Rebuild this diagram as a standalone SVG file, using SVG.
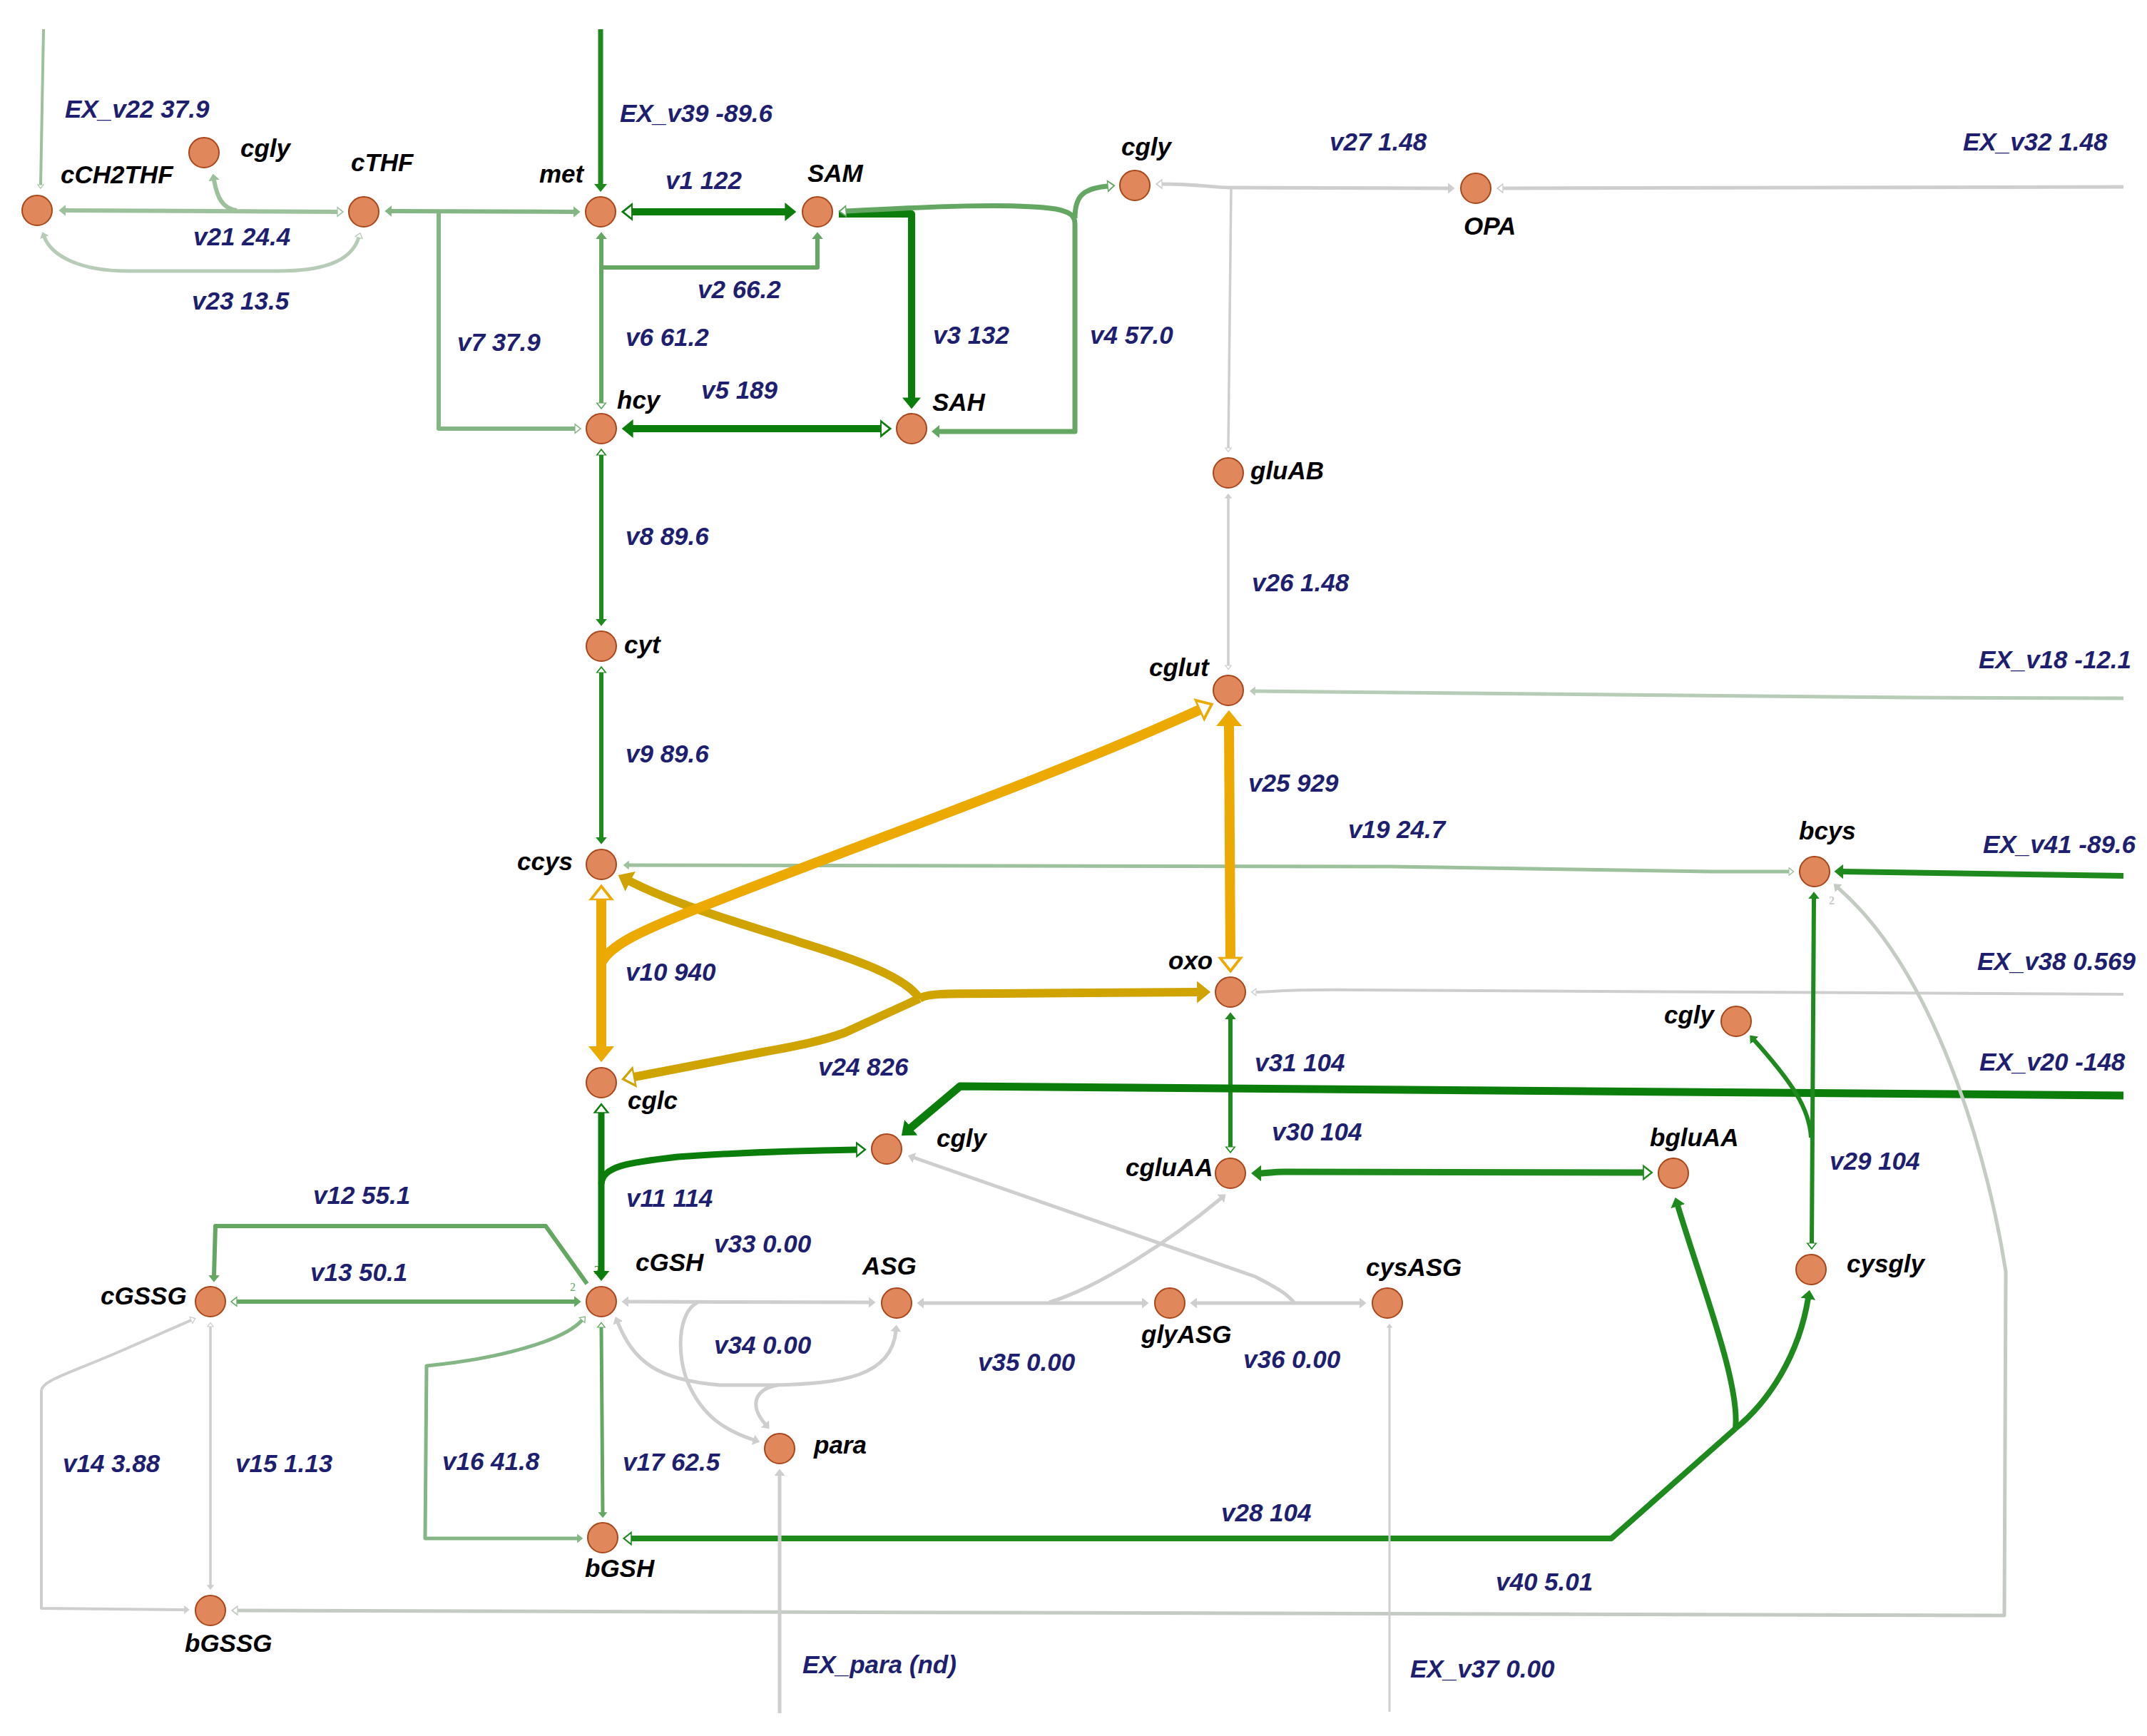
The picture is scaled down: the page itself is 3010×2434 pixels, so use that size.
<svg xmlns="http://www.w3.org/2000/svg" width="3010" height="2434" viewBox="0 0 3010 2434">
<style>
  .node circle{fill:#E0875C;stroke:#A8461A;stroke-width:2}
  .node text{font-family:"Liberation Sans",Arial,sans-serif;font-weight:bold;font-style:italic;font-size:35px;fill:#000}
  .lbl{font-family:"Liberation Sans",Arial,sans-serif;font-weight:bold;font-style:italic;font-size:35px;fill:#1F1F70}
  .stoich{font-family:"Liberation Serif",serif;font-size:16px}
  #connectors path{fill:none;stroke-linejoin:round}
  .c1{stroke:#0A7D0A}.c2{stroke:#1E8A1E}.c3{stroke:#63A763}.c4{stroke:#84B584}.c5{stroke:#9CC19C}
  .c6{stroke:#B7CCB7}.c7{stroke:#CECECE}.c8{stroke:#C3CBC3}.c9{stroke:#ECAA00}.c10{stroke:#CFA300}
</style>
<defs>
  <!-- filled heads (f) and open heads (h), one pair per line colour -->
  <marker id="f1" viewBox="0 0 10 10" refX="1" refY="5" markerWidth="1.6" markerHeight="2.6" orient="auto-start-reverse" preserveAspectRatio="none"><path d="M0,0L10,5L0,10z" fill="#0A7D0A"/></marker>
  <marker id="h1" viewBox="0 0 10 10" refX="1" refY="5" markerWidth="1.6" markerHeight="2.6" orient="auto-start-reverse" preserveAspectRatio="none" overflow="visible"><path d="M1,1L9.2,5L1,9z" fill="#fff" stroke="#0A7D0A" stroke-width="1.2"/></marker>
  <marker id="f2" viewBox="0 0 10 10" refX="1" refY="5" markerWidth="1.6" markerHeight="2.6" orient="auto-start-reverse" preserveAspectRatio="none"><path d="M0,0L10,5L0,10z" fill="#1E8A1E"/></marker>
  <marker id="h2" viewBox="0 0 10 10" refX="1" refY="5" markerWidth="1.6" markerHeight="2.6" orient="auto-start-reverse" preserveAspectRatio="none" overflow="visible"><path d="M1,1L9.2,5L1,9z" fill="#fff" stroke="#1E8A1E" stroke-width="1.2"/></marker>
  <marker id="f3" viewBox="0 0 10 10" refX="1" refY="5" markerWidth="1.6" markerHeight="2.6" orient="auto-start-reverse" preserveAspectRatio="none"><path d="M0,0L10,5L0,10z" fill="#63A763"/></marker>
  <marker id="h3" viewBox="0 0 10 10" refX="1" refY="5" markerWidth="1.6" markerHeight="2.6" orient="auto-start-reverse" preserveAspectRatio="none" overflow="visible"><path d="M1,1L9.2,5L1,9z" fill="#fff" stroke="#63A763" stroke-width="1.2"/></marker>
  <marker id="f4" viewBox="0 0 10 10" refX="1" refY="5" markerWidth="1.6" markerHeight="2.6" orient="auto-start-reverse" preserveAspectRatio="none"><path d="M0,0L10,5L0,10z" fill="#84B584"/></marker>
  <marker id="h4" viewBox="0 0 10 10" refX="1" refY="5" markerWidth="1.6" markerHeight="2.6" orient="auto-start-reverse" preserveAspectRatio="none" overflow="visible"><path d="M1,1L9.2,5L1,9z" fill="#fff" stroke="#84B584" stroke-width="1.2"/></marker>
  <marker id="f5" viewBox="0 0 10 10" refX="1" refY="5" markerWidth="1.6" markerHeight="2.6" orient="auto-start-reverse" preserveAspectRatio="none"><path d="M0,0L10,5L0,10z" fill="#9CC19C"/></marker>
  <marker id="h5" viewBox="0 0 10 10" refX="1" refY="5" markerWidth="1.6" markerHeight="2.6" orient="auto-start-reverse" preserveAspectRatio="none" overflow="visible"><path d="M1,1L9.2,5L1,9z" fill="#fff" stroke="#9CC19C" stroke-width="1.2"/></marker>
  <marker id="f6" viewBox="0 0 10 10" refX="1" refY="5" markerWidth="1.6" markerHeight="2.6" orient="auto-start-reverse" preserveAspectRatio="none"><path d="M0,0L10,5L0,10z" fill="#B7CCB7"/></marker>
  <marker id="h6" viewBox="0 0 10 10" refX="1" refY="5" markerWidth="1.6" markerHeight="2.6" orient="auto-start-reverse" preserveAspectRatio="none" overflow="visible"><path d="M1,1L9.2,5L1,9z" fill="#fff" stroke="#B7CCB7" stroke-width="1.2"/></marker>
  <marker id="f7" viewBox="0 0 10 10" refX="1" refY="5" markerWidth="1.9" markerHeight="3" orient="auto-start-reverse" preserveAspectRatio="none"><path d="M0,0L10,5L0,10z" fill="#CECECE"/></marker>
  <marker id="h7" viewBox="0 0 10 10" refX="1" refY="5" markerWidth="1.9" markerHeight="3" orient="auto-start-reverse" preserveAspectRatio="none" overflow="visible"><path d="M1,1L9.2,5L1,9z" fill="#fff" stroke="#CECECE" stroke-width="1.3"/></marker>
  <marker id="f8" viewBox="0 0 10 10" refX="1" refY="5" markerWidth="1.9" markerHeight="3" orient="auto-start-reverse" preserveAspectRatio="none"><path d="M0,0L10,5L0,10z" fill="#C3CBC3"/></marker>
  <marker id="h8" viewBox="0 0 10 10" refX="1" refY="5" markerWidth="1.9" markerHeight="3" orient="auto-start-reverse" preserveAspectRatio="none" overflow="visible"><path d="M1,1L9.2,5L1,9z" fill="#fff" stroke="#C3CBC3" stroke-width="1.3"/></marker>
  <marker id="f9" viewBox="0 0 10 10" refX="1" refY="5" markerWidth="1.6" markerHeight="2.6" orient="auto-start-reverse" preserveAspectRatio="none"><path d="M0,0L10,5L0,10z" fill="#ECAA00"/></marker>
  <marker id="h9" viewBox="0 0 10 10" refX="1" refY="5" markerWidth="1.6" markerHeight="2.6" orient="auto-start-reverse" preserveAspectRatio="none" overflow="visible"><path d="M1,1L9.2,5L1,9z" fill="#fff" stroke="#ECAA00" stroke-width="1.2"/></marker>
  <marker id="f10" viewBox="0 0 10 10" refX="1" refY="5" markerWidth="1.6" markerHeight="2.6" orient="auto-start-reverse" preserveAspectRatio="none"><path d="M0,0L10,5L0,10z" fill="#CFA300"/></marker>
  <marker id="h10" viewBox="0 0 10 10" refX="1" refY="5" markerWidth="1.6" markerHeight="2.6" orient="auto-start-reverse" preserveAspectRatio="none" overflow="visible"><path d="M1,1L9.2,5L1,9z" fill="#fff" stroke="#CFA300" stroke-width="1.2"/></marker>
</defs>
<rect width="3010" height="2434" fill="#fff"/>

<g id="connectors">
  <g id="r-EX_v22"><path class="c5" stroke-width="4" d="M61,41 L57,259" marker-end="url(#h5)"/></g>
  <g id="r-v21">
    <path class="c5" stroke-width="6" d="M473,297 L91,295" marker-start="url(#h5)" marker-end="url(#f5)"/>
    <path class="c5" stroke-width="6" d="M332,295 C312,293 304,276 300,252" marker-end="url(#f5)"/>
  </g>
  <g id="r-v23"><path class="c6" stroke-width="5" d="M503,333 C492,368 450,380 389,380 L180,380 C110,380 72,358 62,332" marker-start="url(#h6)" marker-end="url(#f6)"/></g>
  <g id="r-v7">
    <path class="c4" stroke-width="6" d="M548,296 L805,297" marker-start="url(#f4)" marker-end="url(#f4)"/>
    <path class="c4" stroke-width="6" d="M615,296 L615,601 L806,601" marker-end="url(#h4)"/>
  </g>
  <g id="r-EX_v39"><path class="c2" stroke-width="7" d="M842,41 L842,259" marker-end="url(#f2)"/></g>
  <g id="r-v1"><path class="c1" stroke-width="10" d="M886,297 L1102,297" marker-start="url(#h1)" marker-end="url(#f1)"/></g>
  <g id="r-v6"><path class="c3" stroke-width="6" d="M843,565 L843,334" marker-start="url(#h3)" marker-end="url(#f3)"/></g>
  <g id="r-v2"><path class="c3" stroke-width="6" d="M843,375 L1146,375 L1146,334" marker-end="url(#f3)"/></g>
  <g id="r-v3"><path class="c1" stroke-width="10" d="M1176,300 L1278,300 L1278,559" marker-end="url(#f1)"/></g>
  <g id="r-v4">
    <path class="c3" stroke-width="7" d="M1186,296 C1300,290 1420,284 1480,293 C1500,297 1507,302 1507,314 L1507,605 L1316,605" marker-start="url(#h3)" marker-end="url(#f3)"/>
    <path class="c3" stroke-width="7" d="M1507,306 C1507,276 1517,264 1553,261" marker-end="url(#h3)"/>
  </g>
  <g id="r-v5"><path class="c1" stroke-width="10" d="M1235,601 L886,601" marker-start="url(#h1)" marker-end="url(#f1)"/></g>
  <g id="r-v8"><path class="c2" stroke-width="6" d="M843,638 L843,869" marker-start="url(#h2)" marker-end="url(#f2)"/></g>
  <g id="r-v9"><path class="c2" stroke-width="6" d="M843,943 L843,1175" marker-start="url(#h2)" marker-end="url(#f2)"/></g>
  <g id="r-v27">
    <path class="c7" stroke-width="5" d="M1629,258 C1680,258 1700,263 1726,263 L2031,264" marker-start="url(#h7)" marker-end="url(#f7)"/>
    <path class="c7" stroke-width="3.5" d="M1726,263 L1722,628" marker-end="url(#h7)"/>
  </g>
  <g id="r-EX_v32"><path class="c7" stroke-width="5" d="M2977,262 L2107,264" marker-end="url(#h7)"/></g>
  <g id="r-v26"><path class="c7" stroke-width="3.5" d="M1722,933 L1722,698" marker-start="url(#h7)" marker-end="url(#f7)"/></g>
  <g id="r-EX_v18"><path class="c6" stroke-width="5" d="M2977,979 L2680,978 L1759,969" marker-end="url(#f6)"/></g>
  <g id="r-v19"><path class="c5" stroke-width="5" d="M2508,1222 L2400,1222 L1950,1215 L881,1213" marker-start="url(#h5)" marker-end="url(#f5)"/></g>
  <g id="r-EX_v41"><path class="c2" stroke-width="8" d="M2977,1228 L2583,1222" marker-end="url(#f2)"/></g>
  <g id="r-EX_v38"><path class="c7" stroke-width="4" d="M2977,1394 L1900,1388 C1800,1387 1780,1391 1761,1391" marker-end="url(#h7)"/></g>
  <g id="r-v24">
    <path class="c10" stroke-width="12" d="M1289,1400 C1270,1370 1200,1345 1121,1321 C1050,1298 950,1270 882,1235" marker-end="url(#f10)"/>
    <path class="c10" stroke-width="12" d="M1289,1400 C1300,1393 1320,1393 1400,1393 L1680,1391" marker-end="url(#f10)"/>
    <path class="c10" stroke-width="12" d="M1289,1400 L1184,1448 C1150,1460 1120,1466 1070,1475 L889,1510" marker-end="url(#h10)"/>
  </g>
  <g id="r-v10">
    <path class="c9" stroke-width="14" d="M843,1261 L843,1469" marker-start="url(#h9)" marker-end="url(#f9)"/>
    <path class="c9" stroke-width="14" d="M843,1350 C855,1325 900,1305 967,1278 C1200,1185 1450,1100 1682,995" marker-end="url(#h9)"/>
  </g>
  <g id="r-v25"><path class="c9" stroke-width="14" d="M1725,1343 L1723,1016" marker-start="url(#h9)" marker-end="url(#f9)"/></g>
  <g id="r-v31"><path class="c2" stroke-width="6" d="M1725,1608 L1725,1428" marker-start="url(#h2)" marker-end="url(#f2)"/></g>
  <g id="r-EX_v20"><path class="c1" stroke-width="11" d="M2977,1536 L1346,1523 L1276,1582" marker-end="url(#f1)"/></g>
  <g id="r-v29">
    <path class="c2" stroke-width="6" d="M2540,1743 L2543,1259" marker-start="url(#h2)" marker-end="url(#f2)"/>
    <path class="c2" stroke-width="6" d="M2539,1595 C2537,1555 2513,1518 2459,1458" marker-end="url(#f2)"/>
  </g>
  <g id="r-v30"><path class="c2" stroke-width="9" d="M2304,1644 L1800,1643 C1785,1643 1775,1645 1767,1645" marker-start="url(#h2)" marker-end="url(#f2)"/></g>
  <g id="r-v28">
    <path class="c2" stroke-width="8" d="M885,2157 L2259,2157 L2433,2003" marker-start="url(#h2)"/>
    <path class="c2" stroke-width="8" d="M2433,2003 C2440,1940 2385,1800 2352,1690" marker-end="url(#f2)"/>
    <path class="c2" stroke-width="8" d="M2433,2003 C2480,1965 2522,1900 2535,1820" marker-end="url(#f2)"/>
  </g>
  <g id="r-v11">
    <path class="c1" stroke-width="9" d="M843,1560 L843,1783" marker-start="url(#h1)" marker-end="url(#f1)"/>
    <path class="c1" stroke-width="9" d="M843,1660 C845,1635 880,1630 950,1622 C1050,1615 1130,1613 1201,1612" marker-end="url(#h1)"/>
  </g>
  <g id="r-v12"><path class="c3" stroke-width="6" d="M823,1800 L765,1719 L302,1719 L300,1789" marker-end="url(#f3)"/></g>
  <g id="r-v13"><path class="c3" stroke-width="6" d="M332,1825 L806,1825" marker-start="url(#h3)" marker-end="url(#f3)"/></g>
  <g id="r-v16"><path class="c4" stroke-width="5" d="M816,1851 C790,1880 700,1905 598,1915 L596,2157 L810,2157" marker-start="url(#h4)" marker-end="url(#f4)"/></g>
  <g id="r-v17"><path class="c3" stroke-width="5" d="M843,1861 L845,2121" marker-start="url(#h3)" marker-end="url(#f3)"/></g>
  <g id="r-v14"><path class="c7" stroke-width="4" d="M268,1851 L179,1890 C100,1925 58,1935 58,1950 L58,2255 L259,2257" marker-start="url(#h7)" marker-end="url(#f7)"/></g>
  <g id="r-v15"><path class="c7" stroke-width="3.5" d="M295,1860 L295,2223" marker-start="url(#h7)" marker-end="url(#f7)"/></g>
  <g id="r-v40"><path class="c8" stroke-width="5" d="M333,2258 L2810,2265 L2812,1783 C2790,1640 2720,1370 2577,1245" marker-start="url(#h8)" marker-end="url(#f8)"/></g>
  <g id="r-v33">
    <path class="c7" stroke-width="5" d="M880,1825 L1219,1826" marker-start="url(#f7)" marker-end="url(#f7)"/>
    <path class="c7" stroke-width="5" d="M978,1826 C950,1840 948,1900 965,1940 C985,1985 1015,2005 1057,2019" marker-end="url(#f7)"/>
  </g>
  <g id="r-v34">
    <path class="c7" stroke-width="5" d="M866,1854 C888,1908 920,1935 1010,1942 L1085,1942 C1180,1940 1250,1930 1256,1866" marker-start="url(#f7)" marker-end="url(#f7)"/>
    <path class="c7" stroke-width="5" d="M1090,1942 C1058,1948 1050,1970 1073,1997" marker-end="url(#f7)"/>
  </g>
  <g id="r-v35">
    <path class="c7" stroke-width="5" d="M1294,1827 L1602,1827" marker-start="url(#f7)" marker-end="url(#f7)"/>
    <path class="c7" stroke-width="5" d="M1471,1826 C1540,1805 1640,1740 1712,1680" marker-end="url(#f7)"/>
  </g>
  <g id="r-v36">
    <path class="c7" stroke-width="5" d="M1907,1827 L1677,1827" marker-start="url(#f7)" marker-end="url(#f7)"/>
    <path class="c7" stroke-width="5" d="M1815,1827 C1805,1815 1795,1808 1760,1790 L1281,1623" marker-end="url(#f7)"/>
  </g>
  <g id="r-EX_v37"><path class="c7" stroke-width="3" d="M1948,2400 L1948,1861" marker-end="url(#f7)"/></g>
  <g id="r-EX_para"><path class="c7" stroke-width="5" d="M1093,2402 L1093,2068" marker-end="url(#f7)"/></g>

  <!-- stoichiometry marks -->
  <text class="stoich" x="799" y="1810" fill="#63A763">2</text>
  <text class="stoich" x="833" y="1786" fill="#0A7D0A">2</text>
  <text class="stoich" x="2564" y="1268" fill="#C8C8C8" font-family="Liberation Sans, sans-serif" font-weight="bold" font-size="15">2</text>
</g>

<g id="flux-labels" class="lbl">
  <text x="91" y="165">EX_v22 37.9</text>
  <text x="271" y="344">v21 24.4</text>
  <text x="269" y="434">v23 13.5</text>
  <text x="869" y="171">EX_v39 -89.6</text>
  <text x="933" y="265">v1 122</text>
  <text x="978" y="418">v2 66.2</text>
  <text x="641" y="492">v7 37.9</text>
  <text x="877" y="485">v6 61.2</text>
  <text x="1308" y="482">v3 132</text>
  <text x="1528" y="482">v4 57.0</text>
  <text x="983" y="559">v5 189</text>
  <text x="1864" y="211">v27 1.48</text>
  <text x="2752" y="211">EX_v32 1.48</text>
  <text x="1755" y="829">v26 1.48</text>
  <text x="877" y="764">v8 89.6</text>
  <text x="877" y="1069">v9 89.6</text>
  <text x="877" y="1375">v10 940</text>
  <text x="1147" y="1508">v24 826</text>
  <text x="1750" y="1110">v25 929</text>
  <text x="2774" y="937">EX_v18 -12.1</text>
  <text x="1890" y="1175">v19 24.7</text>
  <text x="2780" y="1196">EX_v41 -89.6</text>
  <text x="2772" y="1360">EX_v38 0.569</text>
  <text x="1759" y="1502">v31 104</text>
  <text x="2775" y="1501">EX_v20 -148</text>
  <text x="1783" y="1599">v30 104</text>
  <text x="2565" y="1640">v29 104</text>
  <text x="439" y="1688">v12 55.1</text>
  <text x="878" y="1692">v11 114</text>
  <text x="1001" y="1756">v33 0.00</text>
  <text x="435" y="1796">v13 50.1</text>
  <text x="1001" y="1898">v34 0.00</text>
  <text x="1371" y="1922">v35 0.00</text>
  <text x="1743" y="1918">v36 0.00</text>
  <text x="88" y="2064">v14 3.88</text>
  <text x="330" y="2064">v15 1.13</text>
  <text x="620" y="2061">v16 41.8</text>
  <text x="873" y="2062">v17 62.5</text>
  <text x="1712" y="2133">v28 104</text>
  <text x="2097" y="2230">v40 5.01</text>
  <text x="1125" y="2346">EX_para (nd)</text>
  <text x="1977" y="2352">EX_v37 0.00</text>
</g>

<g id="nodes">
  <g id="n-cCH2THF" class="node"><circle cx="52" cy="295" r="21"/><text x="85" y="257">cCH2THF</text></g>
  <g id="n-cgly-a" class="node"><circle cx="286" cy="214" r="21"/><text x="337" y="220">cgly</text></g>
  <g id="n-cTHF" class="node"><circle cx="510" cy="297" r="21"/><text x="492" y="240">cTHF</text></g>
  <g id="n-met" class="node"><circle cx="842" cy="297" r="21"/><text x="756" y="256">met</text></g>
  <g id="n-SAM" class="node"><circle cx="1146" cy="297" r="21"/><text x="1132" y="255">SAM</text></g>
  <g id="n-cgly-b" class="node"><circle cx="1591" cy="260" r="21"/><text x="1572" y="218">cgly</text></g>
  <g id="n-OPA" class="node"><circle cx="2069" cy="264" r="21"/><text x="2052" y="329">OPA</text></g>
  <g id="n-hcy" class="node"><circle cx="843" cy="601" r="21"/><text x="865" y="573">hcy</text></g>
  <g id="n-SAH" class="node"><circle cx="1278" cy="601" r="21"/><text x="1307" y="576">SAH</text></g>
  <g id="n-gluAB" class="node"><circle cx="1722" cy="663" r="21"/><text x="1753" y="672">gluAB</text></g>
  <g id="n-cyt" class="node"><circle cx="843" cy="906" r="21"/><text x="875" y="916">cyt</text></g>
  <g id="n-cglut" class="node"><circle cx="1722" cy="968" r="21"/><text x="1611" y="948">cglut</text></g>
  <g id="n-ccys" class="node"><circle cx="843" cy="1212" r="21"/><text x="725" y="1220">ccys</text></g>
  <g id="n-bcys" class="node"><circle cx="2544" cy="1222" r="21"/><text x="2522" y="1177">bcys</text></g>
  <g id="n-oxo" class="node"><circle cx="1725" cy="1391" r="21"/><text x="1638" y="1359">oxo</text></g>
  <g id="n-cgly-d" class="node"><circle cx="2434" cy="1432" r="21"/><text x="2333" y="1435">cgly</text></g>
  <g id="n-cglc" class="node"><circle cx="843" cy="1518" r="21"/><text x="880" y="1555">cglc</text></g>
  <g id="n-cgly-c" class="node"><circle cx="1243" cy="1611" r="21"/><text x="1313" y="1608">cgly</text></g>
  <g id="n-cgluAA" class="node"><circle cx="1725" cy="1645" r="21"/><text x="1578" y="1649">cgluAA</text></g>
  <g id="n-bgluAA" class="node"><circle cx="2346" cy="1645" r="21"/><text x="2313" y="1607">bgluAA</text></g>
  <g id="n-cysgly" class="node"><circle cx="2539" cy="1780" r="21"/><text x="2589" y="1784">cysgly</text></g>
  <g id="n-cGSSG" class="node"><circle cx="295" cy="1825" r="21"/><text x="141" y="1829">cGSSG</text></g>
  <g id="n-cGSH" class="node"><circle cx="843" cy="1825" r="21"/><text x="891" y="1782">cGSH</text></g>
  <g id="n-ASG" class="node"><circle cx="1257" cy="1827" r="21"/><text x="1209" y="1787">ASG</text></g>
  <g id="n-glyASG" class="node"><circle cx="1640" cy="1827" r="21"/><text x="1600" y="1883">glyASG</text></g>
  <g id="n-cysASG" class="node"><circle cx="1945" cy="1827" r="21"/><text x="1915" y="1789">cysASG</text></g>
  <g id="n-para" class="node"><circle cx="1093" cy="2031" r="21"/><text x="1141" y="2038">para</text></g>
  <g id="n-bGSH" class="node"><circle cx="845" cy="2156" r="21"/><text x="820" y="2211">bGSH</text></g>
  <g id="n-bGSSG" class="node"><circle cx="295" cy="2258" r="21"/><text x="259" y="2316">bGSSG</text></g>
</g>
</svg>
